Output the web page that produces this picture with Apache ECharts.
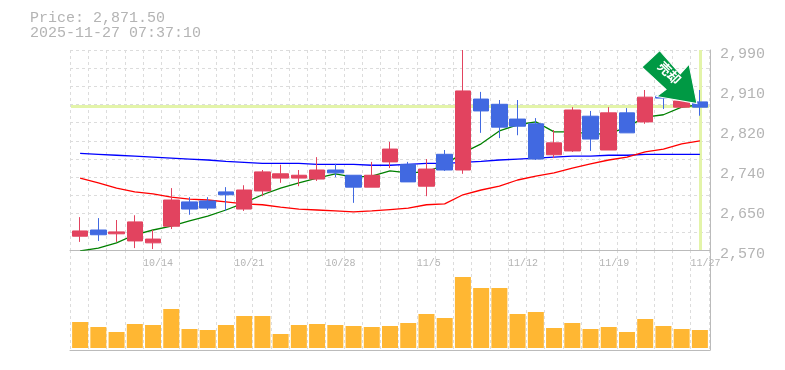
<!DOCTYPE html>
<html>
<head>
<meta charset="utf-8">
<style>html,body{margin:0;padding:0;background:#fff}#main{width:785px;height:370px}</style>
<script src="https://cdn.jsdelivr.net/npm/echarts@6/dist/echarts.min.js"></script>
</head>
<body>
<div id="main"></div>
<script>
const dates = ['10/7','10/8','10/9','10/10','10/14','10/15','10/16','10/17','10/20','10/21','10/22','10/23','10/24','10/27','10/28','10/29','10/30','10/31','11/4','11/5','11/6','11/7','11/10','11/11','11/12','11/13','11/14','11/17','11/18','11/19','11/20','11/21','11/25','11/26','11/27'];
const shownDates = ['10/14','10/21','10/28','11/5','11/12','11/19','11/27'];
const priceTickLabels = ['2,570','2,650','2,740','2,820','2,910','2,990'];

// [open, close, low, high]
const candles = [
    [2599,2610,2587,2639],[2612,2602,2589,2637],[2604,2608,2587,2633],[2589,2629,2574,2643],
    [2585,2593,2572,2612],[2620,2675,2614,2700],[2671,2656,2644,2681],[2673,2658,2654,2681],
    [2692,2686,2652,2702],[2656,2696,2652,2706],[2694,2734,2683,2738],[2721,2730,2711,2749],
    [2721,2727,2704,2738],[2719,2738,2715,2765],[2738,2732,2723,2751],[2727,2702,2669,2727],
    [2702,2727,2702,2755],[2755,2782,2742,2797],[2750,2713,2713,2755],[2704,2740,2683,2761],
    [2771,2738,2736,2780],[2738,2904,2730,2990],[2887,2862,2816,2902],[2876,2828,2805,2885],
    [2845,2830,2811,2885],[2835,2761,2759,2847],[2770,2795,2763,2822],[2778,2864,2776,2870],
    [2851,2803,2778,2862],[2780,2858,2780,2870],[2858,2816,2816,2868],[2839,2891,2835,2906],
    [2893,2889,2866,2899],[2870,2883,2868,2892],[2881,2870,2852,2906]
];
const maShort = [2568,2574,2585,2602,2612,2620,2631,2641,2654,2669,2686,2700,2711,2721,2730,2723,2725,2736,2732,2734,2749,2774,2793,2820,2833,2839,2818,2818,2814,2814,2828,2849,2854,2870,2875];
const maMid = [2773,2771,2769,2767,2765,2763,2761,2759,2756,2754,2752,2752,2752,2750,2750,2750,2748,2748,2750,2752,2752,2754,2756,2759,2761,2763,2765,2767,2767,2769,2769,2771,2771,2771,2771];
const maLong = [2721,2711,2700,2692,2688,2681,2677,2675,2671,2667,2665,2660,2656,2654,2652,2650,2652,2655,2658,2665,2667,2686,2696,2704,2717,2725,2732,2742,2751,2759,2765,2776,2782,2793,2799];
const volumes = [26,21,16,24,23,39,19,18,23,32,32,14,23,24,23,22,21,22,25,34,30,71,60,60,34,36,20,25,19,21,16,29,22,19,18];

const lastPrice = 2871.5;
const RED = '#e2435f', BLUE = '#4169e1', GRID = '#dcdcdc', FRAME = '#bbbbbb', TEXT = '#b4b4b4', MONO = '"Liberation Mono", monospace';

const dashed = {show: true, lineStyle: {color: GRID, type: [3, 3], width: 1}};
const hidden = {axisLine: {show: false}, axisTick: {show: false}, axisLabel: {show: false}, splitLine: {show: false}};
const frameLine = {axisLine: {show: true, onZero: false, lineStyle: {color: FRAME}}};
const COLS = 640 / 18.25;

function maLine(data, color) {
    return {type: 'line', data: data, symbol: 'none', z: 3, lineStyle: {color: color, width: 1.3}, itemStyle: {color: color}, silent: true};
}

const chart = echarts.init(document.getElementById('main'));
chart.setOption({
    animation: false,
    title: {
        text: 'Price: 2,871.50\n2025-11-27 07:37:10',
        left: 25, top: 6,
        textStyle: {color: TEXT, fontFamily: MONO, fontSize: 15, fontWeight: 'normal', lineHeight: 15}
    },
    grid: [
        // marks
        {left: 71, width: 638, top: 50, height: 200},
        {left: 71, width: 638, top: 250, height: 100},
        // guides and frame
        {left: 70, width: 640, top: 50, height: 200},
        {left: 70, width: 640, top: 250, height: 100},
        // price labels sit a little under their tick
        {left: 70, width: 640, top: 54, height: 200}
    ],
    xAxis: [
        Object.assign({type: 'category', gridIndex: 0, data: dates}, hidden),
        Object.assign({type: 'category', gridIndex: 1, data: dates}, hidden),
        Object.assign({type: 'value', gridIndex: 2, min: 0, max: COLS, interval: 1, axisTick: {show: false}, splitLine: dashed,
            axisLabel: {
                align: 'left', margin: 8, color: TEXT, fontFamily: MONO, fontSize: 10, showMaxLabel: false,
                formatter: v => shownDates.includes(dates[v]) ? dates[v] : ''
            }}, frameLine),
        Object.assign({type: 'value', gridIndex: 3, min: 0, max: COLS, interval: 1, axisTick: {show: false}, axisLabel: {show: false}, splitLine: dashed}, frameLine),
        Object.assign({type: 'value', gridIndex: 4, min: 0, max: 1}, hidden)
    ],
    yAxis: [
        Object.assign({type: 'value', gridIndex: 0, min: 2570, max: 2990}, hidden),
        Object.assign({type: 'value', gridIndex: 1, min: -2, max: 98}, hidden),
        // 11 grid rows
        Object.assign({type: 'value', gridIndex: 2, min: 0, max: 11, interval: 1}, hidden, {splitLine: dashed}),
        // labels, one every 5 rows
        Object.assign({type: 'value', gridIndex: 4, position: 'right', min: 0, max: 5, interval: 1}, hidden, {
            axisLine: {show: false, onZero: false},
            axisLabel: {margin: 10, color: TEXT, fontFamily: MONO, fontSize: 15, formatter: v => priceTickLabels[v]}}),
        // right frame, both panels
        Object.assign({type: 'value', gridIndex: 2, position: 'right', min: 0, max: 1}, hidden, frameLine),
        Object.assign({type: 'value', gridIndex: 3, position: 'right', min: 0, max: 1}, hidden, frameLine)
    ],
    series: [
        {
            type: 'line', data: [], z: 1, silent: true,
            markLine: {
                silent: true, symbol: 'none', label: {show: false}, z: 1,
                lineStyle: {color: '#e3f4a9', width: 3, type: 'solid'},
                data: [{yAxis: lastPrice}, {xAxis: dates[dates.length - 1]}]
            }
        },
        maLine(maShort, '#008000'),
        maLine(maMid, '#0000ff'),
        maLine(maLong, '#ff0000'),
        {
            type: 'candlestick', data: candles, barWidth: 16, z: 4,
            itemStyle: {color: RED, color0: BLUE, borderColor: RED, borderColor0: BLUE, borderWidth: 1},
            markPoint: {
                silent: true, z: 10,
                symbol: 'path://M16.7 0 L0 15.7 L22.7 37.3 L13.7 44 L51.7 50.7 L44.3 13 L36 22.3 Z',
                symbolSize: [55, 54],
                symbolKeepAspect: true,
                itemStyle: {color: '#009944', borderColor: '#ffffff', borderWidth: 1},
                data: [{
                    coord: ['11/25', 2910], symbolOffset: [6, -11],
                    label: {show: true, formatter: '売却', color: '#fff', fontFamily: 'Noto Sans CJK JP', fontWeight: 'bold', fontSize: 13, rotate: -45, offset: [-3, -3]}
                }]
            }
        },
        {type: 'bar', xAxisIndex: 1, yAxisIndex: 1, data: volumes, barWidth: 16, itemStyle: {color: '#ffb733'}, silent: true}
    ]
});
</script>
</body>
</html>
